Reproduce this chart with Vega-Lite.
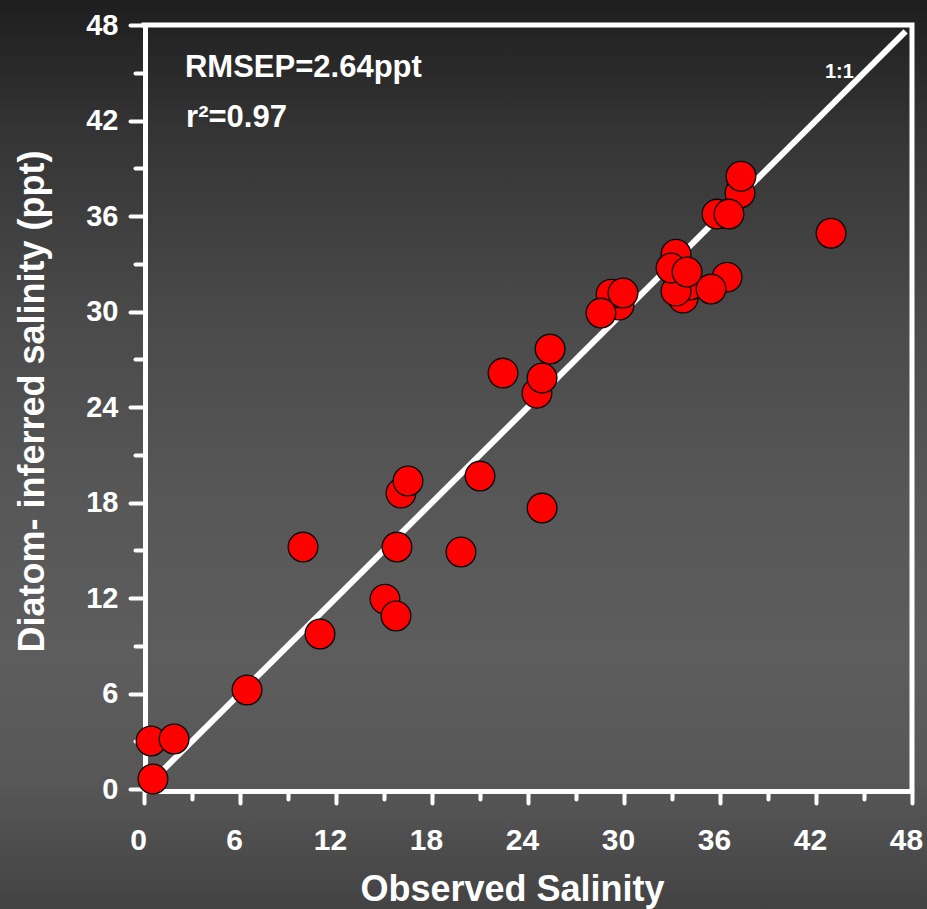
{
  "$schema": "https://vega.github.io/schema/vega-lite/v6.json",
  "width": 927,
  "height": 909,
  "autosize": "none",
  "padding": 0,
  "background": "#444444",
  "config": {
    "font": "Liberation Sans",
    "view": {
      "stroke": null,
      "fill": {
        "gradient": "linear",
        "x1": 0, "y1": 0, "x2": 0, "y2": 1,
        "stops": [
          {"offset": 0, "color": "#1e1e1e"},
          {"offset": 0.15, "color": "#353535"},
          {"offset": 0.35, "color": "#4a4a4a"},
          {"offset": 0.55, "color": "#575757"},
          {"offset": 0.72, "color": "#5d5d5d"},
          {"offset": 0.86, "color": "#575757"},
          {"offset": 1, "color": "#434343"}
        ]
      }
    }
  },
  "datasets": {
    "points": [
      {"observed": 0.44, "inferred": 3.02},
      {"observed": 1.88, "inferred": 3.14},
      {"observed": 0.56, "inferred": 0.63},
      {"observed": 6.44, "inferred": 6.22},
      {"observed": 9.94, "inferred": 15.2},
      {"observed": 11.0, "inferred": 9.74},
      {"observed": 15.06, "inferred": 11.93},
      {"observed": 15.75, "inferred": 10.87},
      {"observed": 15.81, "inferred": 15.2},
      {"observed": 16.06, "inferred": 18.59},
      {"observed": 16.5, "inferred": 19.35},
      {"observed": 19.81, "inferred": 14.89},
      {"observed": 21.0, "inferred": 19.66},
      {"observed": 22.44, "inferred": 26.13},
      {"observed": 24.56, "inferred": 24.87},
      {"observed": 24.88, "inferred": 25.82},
      {"observed": 25.38, "inferred": 27.64},
      {"observed": 24.88, "inferred": 17.65},
      {"observed": 29.69, "inferred": 30.4},
      {"observed": 29.19, "inferred": 31.09},
      {"observed": 29.94, "inferred": 31.16},
      {"observed": 28.56, "inferred": 29.9},
      {"observed": 33.69, "inferred": 30.84},
      {"observed": 34.13, "inferred": 31.66},
      {"observed": 33.25, "inferred": 31.28},
      {"observed": 33.25, "inferred": 33.6},
      {"observed": 32.94, "inferred": 32.73},
      {"observed": 33.94, "inferred": 32.48},
      {"observed": 36.44, "inferred": 32.16},
      {"observed": 35.44, "inferred": 31.41},
      {"observed": 37.25, "inferred": 37.44},
      {"observed": 37.31, "inferred": 38.5},
      {"observed": 35.81, "inferred": 36.12},
      {"observed": 36.56, "inferred": 36.12},
      {"observed": 42.94, "inferred": 34.92}
    ],
    "identity": [
      {"observed": 1.2, "inferred": 1.2},
      {"observed": 47.6, "inferred": 47.6}
    ],
    "frame": [
      {"observed": 0, "inferred": 48},
      {"observed": 48, "inferred": 48},
      {"observed": 48, "inferred": 0}
    ],
    "stats": [
      {"observed": 2.56, "inferred": 44.72, "note": "RMSEP=2.64ppt"},
      {"observed": 2.63, "inferred": 41.58, "note": "r²=0.97"}
    ],
    "lineLabel": [
      {"observed": 42.56, "inferred": 44.66, "note": "1:1"}
    ]
  },
  "encoding": {
    "x": {
      "field": "observed", "type": "quantitative",
      "title": "Observed Salinity",
      "scale": {"domain": [0, 48], "range": [144, 912], "nice": false, "zero": false},
      "axis": {
        "offset": -118,
        "values": [0, 3, 6, 9, 12, 15, 18, 21, 24, 27, 30, 33, 36, 39, 42, 45, 48],
        "labelExpr": "datum.value % 6 === 0 ? datum.label : ''",
        "grid": false,
        "domainColor": "white", "domainWidth": 5,
        "tickColor": "white", "tickWidth": 4, "tickCap": "round",
        "tickSize": {"condition": {"test": "datum.value % 6 === 0", "value": 12}, "value": 8},
        "labelColor": "white", "labelFont": "Liberation Sans", "labelFontWeight": "bold", "labelFontSize": 30,
        "labelPadding": 22, "labelOffset": -6, "labelFlush": false, "labelOverlap": false,
        "titleColor": "white", "titleFont": "Liberation Sans", "titleFontWeight": "bold", "titleFontSize": 36,
        "titleX": 512, "titleY": 109, "titleBaseline": "alphabetic", "titleAlign": "center"
      }
    },
    "y": {
      "field": "inferred", "type": "quantitative",
      "title": "Diatom- inferred salinity (ppt)",
      "scale": {"domain": [0, 48], "range": [789, 25], "nice": false, "zero": false},
      "axis": {
        "offset": -145,
        "values": [0, 3, 6, 9, 12, 15, 18, 21, 24, 27, 30, 33, 36, 39, 42, 45, 48],
        "labelExpr": "datum.value % 6 === 0 ? datum.label : ''",
        "grid": false,
        "domainColor": "white", "domainWidth": 5,
        "tickColor": "white", "tickWidth": 4, "tickCap": "round",
        "tickSize": {"condition": {"test": "datum.value % 6 === 0", "value": 15}, "value": 10},
        "labelColor": "white", "labelFont": "Liberation Sans", "labelFontWeight": "bold", "labelFontSize": 29,
        "labelPadding": 12, "labelFlush": false, "labelOverlap": false,
        "titleColor": "white", "titleFont": "Liberation Sans", "titleFontWeight": "bold", "titleFontSize": 36,
        "titleAngle": 270, "titleX": -102, "titleY": 401, "titleBaseline": "alphabetic", "titleAlign": "center"
      }
    }
  },
  "layer": [
    {
      "data": {"name": "identity"},
      "mark": {"type": "line", "color": "white", "strokeWidth": 6, "strokeCap": "butt"}
    },
    {
      "data": {"name": "frame"},
      "mark": {"type": "line", "color": "white", "strokeWidth": 5, "strokeCap": "square", "strokeJoin": "miter"}
    },
    {
      "data": {"name": "points"},
      "mark": {"type": "point", "shape": "circle", "filled": true, "fill": "#ff0000", "stroke": "black", "strokeWidth": 1.3, "size": 880, "opacity": 1}
    },
    {
      "data": {"name": "stats"},
      "mark": {"type": "text", "color": "white", "font": "Liberation Sans", "fontWeight": "bold", "fontSize": 31, "align": "left", "baseline": "alphabetic"},
      "encoding": {"text": {"field": "note", "type": "nominal"}}
    },
    {
      "data": {"name": "lineLabel"},
      "mark": {"type": "text", "color": "white", "font": "Liberation Sans", "fontWeight": "bold", "fontSize": 20, "align": "left", "baseline": "alphabetic"},
      "encoding": {"text": {"field": "note", "type": "nominal"}}
    }
  ]
}
